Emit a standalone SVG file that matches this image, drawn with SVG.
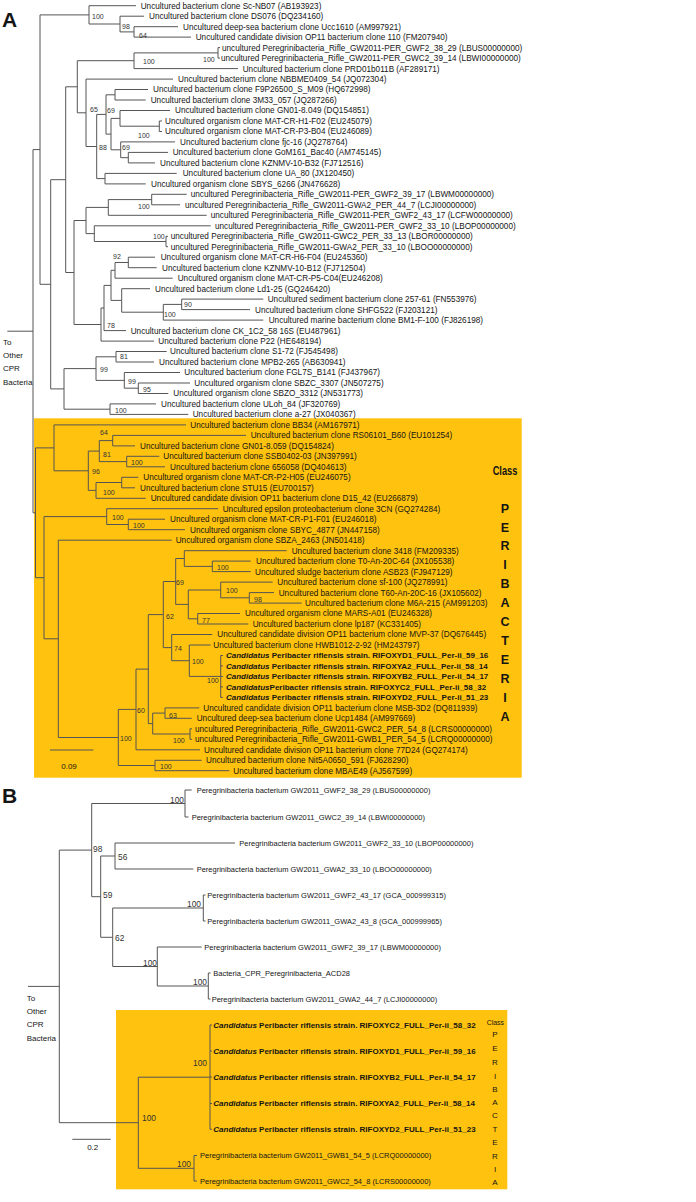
<svg xmlns="http://www.w3.org/2000/svg" width="696" height="1202" viewBox="0 0 696 1202">
<style>
text{font-family:"Liberation Sans",Arial,sans-serif;fill:#151515}
.t{font-size:8.2px}
.tb{font-size:8px;font-weight:bold}
.tB{font-size:7.5px}
.bs{font-size:7px;fill:#333}
.bsB{font-size:8.4px;fill:#333}
.lab{font-size:8px}
.pan{font-size:21px;font-weight:bold}
.cls{font-size:12.5px;font-weight:bold;text-anchor:middle}
.clsB{font-size:8px;text-anchor:middle}
.br{fill:none;stroke:#555;stroke-width:1}
.box{fill:#FFC20E}
</style>
<rect class="box" x="34" y="418.3" width="487.7" height="359.4"/>
<rect class="box" x="116" y="1010" width="391.3" height="179.3"/>
<text class="pan" x="2" y="27">A</text>
<text class="pan" x="2" y="803">B</text>
<g id="connectors">
<path class="br" d="M178 26.7H134V37.1H191M144 16.2H120V31.9H134M136 5.7H89V24H120M89 14.9H40V284.3H50.7M220 47.6H218V58.1H220M218 52.9H134V68.6H238M148 89.5H115V100H145.7M162 121H159.3V131.5H162M170 110.5H120V126.2H159.3M168 152.4H128.3V162.9H155M175 141.9H120.7V157.7H128.3M120 118.4H111V149.8H120.7M115 94.8H106V134.1H111M176.7 173.4H105V183.9H145.7M106 114.4H96.7V178.6H105M173 79.1H86V146.5H96.7M134 60.7H77.3V112.8H86M186.7 194.3H151.7V204.8H180M151.7 199.6H108.3V215.3H206.7M168 236.3H166V246.7H168M210.7 225.8H94.3V241.5H166M108.3 207.4H86V233.6H94.3M155 257.2H128.3V267.7H156.7M128.3 262.5H115V278.2H172.7M263.3 299.1H181.7V309.6H250M181.7 304.4H163.3V320.1H263.3M150 288.7H121.7V312.2H163.3M115 270.3H111V300.4H121.7M111 285.4H104V330.6H126M104 308H101V341.1H154M86 220.5H74V324.5H101M77.3 86.8H65.7V272.5H74M166.7 351.5H116V362H154M190 383H138.3V393.5H168.3M180 372.5H124.3V388.2H138.3M116 356.8H96V380.4H124.3M156 403.9H110V414.4H188.3M96 368.6H64V409.2H110M65.7 179.7H50.7V388.9H64M40 149.6H33V512.8H35.5M7.3 331.2H33"/>
<path class="br" d="M246 435.4H112.7V445.9H135M159.3 456.3H126.7V466.8H165M112.7 440.6H99.3V461.6H126.7M138.3 477.3H121.7V487.8H135M121.7 482.5H96V498.3H145.7M99.3 451.1H88.3V490.4H96M186 424.9H54V470.8H88.3M165 519.2H128.3V529.7H185M218.3 508.7H106.7V524.5H128.3M250.7 561.1H212.3V571.6H250.7M286.7 550.7H184.3V566.4H212.3M274 592.6H249.3V603.1H301.7M272.7 582.1H220.7V597.8H249.3M240 613.5H197.7V624H248.3M220.7 590H188.3V618.8H197.7M184.3 558.5H175.7V604.4H188.3M223 655.5H220.7V697.4H223M220.7 665.9H223M220.7 676.4H223M220.7 686.9H223M210.7 645H189.3V676.4H220.7M212.3 634.5H171.7V660.7H189.3M175.7 581.5H163.3V647.6H171.7M199.3 707.9H165V718.3H191.7M192 728.8H190V739.3H192M165 713.1H152.7V734H190M163.3 614.6H148.3V723.6H152.7M148.3 669.1H136V749.8H200M201.7 760.3H155V770.7H229.3M136 709.4H118.3V765.5H155M171.7 540.2H58.3V737.5H118.3M106.7 516.6H44V638.8H58.3M54 447.9H35.5V577.7H44M50 750H93.3"/>
<path class="br" d="M191.7 790H185V817H188.5M235 843H115V869H193.3M205.5 895H203.3V921H205.5M210.5 973H208.3V999H210.5M201.7 947H157.3V986H208.3M203.3 908H112.7V966.5H157.3M115 856H100.7V937.3H112.7M185 803.5H91.7V896.7H100.7M212 1025H210V1129.3H212M210 1051H212M210 1077H212M210 1103.5H212M197 1155.5H194V1181H197M210 1077.2H138.3V1168.3H194M91.7 850.1H59.3V1122.7H138.3M28 986.4H59.3M72.3 1139.3H110.7"/>
</g>
<g id="support-values">
<text class="bs" x="92" y="19.2">100</text>
<text class="bs" x="122" y="28.5">98</text>
<text class="bs" x="139" y="38">64</text>
<text class="bs" x="143" y="64.2">100</text>
<text class="bs" x="203" y="61.5">100</text>
<text class="bs" x="90" y="111.5">65</text>
<text class="bs" x="107" y="112.5">69</text>
<text class="bs" x="138" y="137.5">100</text>
<text class="bs" x="99" y="149.5">88</text>
<text class="bs" x="122" y="149.5">69</text>
<text class="bs" x="138" y="209.2">100</text>
<text class="bs" x="153" y="238.5">100</text>
<text class="bs" x="113" y="258.5">92</text>
<text class="bs" x="184" y="306.5">90</text>
<text class="bs" x="164" y="316.5">100</text>
<text class="bs" x="107" y="328.2">78</text>
<text class="bs" x="120" y="359.2">81</text>
<text class="bs" x="100" y="371.5">99</text>
<text class="bs" x="128" y="384.2">99</text>
<text class="bs" x="143" y="391.5">95</text>
<text class="bs" x="115" y="412.5">100</text>
<text class="bs" x="100" y="435.2">64</text>
<text class="bs" x="103" y="456.5">81</text>
<text class="bs" x="131" y="465.2">100</text>
<text class="bs" x="92" y="474.2">96</text>
<text class="bs" x="103" y="494.8">100</text>
<text class="bs" x="112" y="520.2">100</text>
<text class="bs" x="133" y="528.2">100</text>
<text class="bs" x="217" y="569.5">100</text>
<text class="bs" x="176" y="585.2">69</text>
<text class="bs" x="226" y="593.2">100</text>
<text class="bs" x="254" y="601.5">98</text>
<text class="bs" x="166" y="618.5">62</text>
<text class="bs" x="202" y="623.2">77</text>
<text class="bs" x="174" y="650.8">74</text>
<text class="bs" x="192" y="663.5">100</text>
<text class="bs" x="207" y="682.5">100</text>
<text class="bs" x="137" y="712.5">60</text>
<text class="bs" x="169" y="718.2">63</text>
<text class="bs" x="120" y="740.8">100</text>
<text class="bs" x="173" y="742.5">100</text>
<text class="bs" x="160" y="768.5">100</text>
<text class="bsB" x="170" y="803">100</text>
<text class="bsB" x="93" y="852.3">98</text>
<text class="bsB" x="118" y="859.7">56</text>
<text class="bsB" x="103" y="898">59</text>
<text class="bsB" x="187" y="907">100</text>
<text class="bsB" x="115" y="940.7">62</text>
<text class="bsB" x="143" y="965.7">100</text>
<text class="bsB" x="193" y="984.7">100</text>
<text class="bsB" x="193" y="1066.3">100</text>
<text class="bsB" x="142" y="1121.3">100</text>
<text class="bsB" x="177" y="1167">100</text>
</g>
<g id="scale-A"><text class="lab" x="69" y="768.7" text-anchor="middle">0.09</text></g>
<g id="scale-B"><text class="lab" x="92.7" y="1149.5" text-anchor="middle">0.2</text></g>
<g id="outgroup-A"><text class="lab" x="3" y="344.5">To</text><text class="lab" x="3" y="357.8">Other</text><text class="lab" x="3" y="371.1">CPR</text><text class="lab" x="3" y="384.5">Bacteria</text></g>
<g id="outgroup-B"><text class="lab" x="26.7" y="1000.5">To</text><text class="lab" x="26.7" y="1013.8">Other</text><text class="lab" x="26.7" y="1027.1">CPR</text><text class="lab" x="26.7" y="1041.1">Bacteria</text></g>
<g id="class-A">
<text class="cls" x="505" y="474.5" textLength="24.6" lengthAdjust="spacingAndGlyphs">Class</text>
<text class="cls" x="505" y="512.5">P</text><text class="cls" x="505" y="531.5">E</text><text class="cls" x="505" y="550.4">R</text><text class="cls" x="505" y="569.4">I</text><text class="cls" x="505" y="588.4">B</text><text class="cls" x="505" y="607.4">A</text><text class="cls" x="505" y="626.3">C</text><text class="cls" x="505" y="645.3">T</text><text class="cls" x="505" y="664.3">E</text><text class="cls" x="505" y="683.2">R</text><text class="cls" x="505" y="702.2">I</text><text class="cls" x="505" y="721.2">A</text>
</g>
<g id="class-B">
<text class="clsB" x="495.3" y="1024.5" textLength="17.3" lengthAdjust="spacingAndGlyphs">Class</text>
<text class="clsB" x="495" y="1037.2">P</text><text class="clsB" x="495" y="1050.6">E</text><text class="clsB" x="495" y="1064.5">R</text><text class="clsB" x="495" y="1078.5">I</text><text class="clsB" x="495" y="1091.8">B</text><text class="clsB" x="495" y="1104.5">A</text><text class="clsB" x="495" y="1117.8">C</text><text class="clsB" x="495" y="1131.8">T</text><text class="clsB" x="495" y="1145.1">E</text><text class="clsB" x="495" y="1158.5">R</text><text class="clsB" x="495" y="1171.8">I</text><text class="clsB" x="495" y="1185.1">A</text>
</g>
<g id="a01"><text class="t" x="140.7" y="8.6">Uncultured bacterium clone Sc-NB07 (AB193923)</text></g>
<g id="a02"><text class="t" x="149" y="19.1">Uncultured bacterium clone DS076 (DQ234160)</text></g>
<g id="a03"><text class="t" x="183" y="29.6">Uncultured deep-sea bacterium clone Ucc1610 (AM997921)</text></g>
<g id="a04"><text class="t" x="195.7" y="40">Uncultured candidate division OP11 bacterium clone 110 (FM207940)</text></g>
<g id="a05"><text class="t" x="222" y="50.5">uncultured Peregrinibacteria_Rifle_GW2011-PER_GWF2_38_29 (LBUS00000000)</text></g>
<g id="a06"><text class="t" x="221" y="61">uncultured Peregrinibacteria_Rifle_GW2011-PER_GWC2_39_14 (LBWI00000000)</text></g>
<g id="a07"><text class="t" x="242.7" y="71.5">Uncultured bacterium clone PRD01b011B (AF289171)</text></g>
<g id="a08"><text class="t" x="178" y="82">Uncultured bacterium clone NBBME0409_54 (JQ072304)</text></g>
<g id="a09"><text class="t" x="153" y="92.4">Uncultured bacterium clone F9P26500_S_M09 (HQ672998)</text></g>
<g id="a10"><text class="t" x="150.7" y="102.9">Uncultured bacterium clone 3M33_057 (JQ287266)</text></g>
<g id="a11"><text class="t" x="175" y="113.4">Uncultured bacterium clone GN01-8.049 (DQ154851)</text></g>
<g id="a12"><text class="t" x="165" y="123.9">Uncultured organism clone MAT-CR-H1-F02 (EU245079)</text></g>
<g id="a13"><text class="t" x="165" y="134.4">Uncultured organism clone MAT-CR-P3-B04 (EU246089)</text></g>
<g id="a14"><text class="t" x="180" y="144.8">Uncultured bacterium clone fjc-16 (JQ278764)</text></g>
<g id="a15"><text class="t" x="172.7" y="155.3">Uncultured bacterium clone GoM161_Bac40 (AM745145)</text></g>
<g id="a16"><text class="t" x="160" y="165.8">Uncultured bacterium clone KZNMV-10-B32 (FJ712516)</text></g>
<g id="a17"><text class="t" x="182.7" y="176.3">Uncultured bacterium clone UA_80 (JX120450)</text></g>
<g id="a18"><text class="t" x="151" y="186.8">Uncultured organism clone SBYS_6266 (JN476628)</text></g>
<g id="a19"><text class="t" x="190.7" y="197.2">uncultured Peregrinibacteria_Rifle_GW2011-PER_GWF2_39_17 (LBWM00000000)</text></g>
<g id="a20"><text class="t" x="185" y="207.7">uncultured Peregrinibacteria_Rifle_GW2011-GWA2_PER_44_7 (LCJI00000000)</text></g>
<g id="a21"><text class="t" x="210.7" y="218.2">uncultured Peregrinibacteria_Rifle_GW2011-PER_GWF2_43_17 (LCFW00000000)</text></g>
<g id="a22"><text class="t" x="215" y="228.7">uncultured Peregrinibacteria_Rifle_GW2011-PER_GWF2_33_10 (LBOP00000000)</text></g>
<g id="a23"><text class="t" x="170.7" y="239.2">uncultured Peregrinibacteria_Rifle_GW2011-GWC2_PER_33_13 (LBOR00000000)</text></g>
<g id="a24"><text class="t" x="170.7" y="249.6">uncultured Peregrinibacteria_Rifle_GW2011-GWA2_PER_33_10 (LBOO00000000)</text></g>
<g id="a25"><text class="t" x="160.7" y="260.1">Uncultured organism clone MAT-CR-H6-F04 (EU245360)</text></g>
<g id="a26"><text class="t" x="162" y="270.6">Uncultured bacterium clone KZNMV-10-B12 (FJ712504)</text></g>
<g id="a27"><text class="t" x="177.7" y="281.1">Uncultured organism clone MAT-CR-P5-C04(EU246208)</text></g>
<g id="a28"><text class="t" x="155" y="291.6">Uncultured bacterium clone Ld1-25 (GQ246420)</text></g>
<g id="a29"><text class="t" x="267.7" y="302">Uncultured sediment bacterium clone 257-61 (FN553976)</text></g>
<g id="a30"><text class="t" x="255" y="312.5">Uncultured bacterium clone SHFG522 (FJ203121)</text></g>
<g id="a31"><text class="t" x="268.7" y="323">Uncultured marine bacterium clone BM1-F-100 (FJ826198)</text></g>
<g id="a32"><text class="t" x="130.7" y="333.5">Uncultured bacterium clone CK_1C2_58 16S (EU487961)</text></g>
<g id="a33"><text class="t" x="158.3" y="344">Uncultured bacterium clone P22 (HE648194)</text></g>
<g id="a34"><text class="t" x="170" y="354.4">Uncultured bacterium clone S1-72 (FJ545498)</text></g>
<g id="a35"><text class="t" x="159" y="364.9">Uncultured bacterium clone MPB2-265 (AB630941)</text></g>
<g id="a36"><text class="t" x="184.3" y="375.4">Uncultured bacterium clone FGL7S_B141 (FJ437967)</text></g>
<g id="a37"><text class="t" x="194.3" y="385.9">Uncultured organism clone SBZC_3307 (JN507275)</text></g>
<g id="a38"><text class="t" x="173.3" y="396.4">Uncultured organism clone SBZO_3312 (JN531773)</text></g>
<g id="a39"><text class="t" x="161" y="406.8">Uncultured bacterium clone ULoh_84 (JF320769)</text></g>
<g id="a40"><text class="t" x="192.7" y="417.3">Uncultured bacterium clone a-27 (JX040367)</text></g>
<g id="a41"><text class="t" x="190.3" y="427.8">Uncultured bacterium clone BB34 (AM167971)</text></g>
<g id="a42"><text class="t" x="250.7" y="438.3">Uncultured bacterium clone RS06101_B60 (EU101254)</text></g>
<g id="a43"><text class="t" x="140" y="448.8">Uncultured bacterium clone GN01-8.059 (DQ154824)</text></g>
<g id="a44"><text class="t" x="163.3" y="459.2">Uncultured bacterium clone SSB0402-03 (JN397991)</text></g>
<g id="a45"><text class="t" x="170" y="469.7">Uncultured bacterium clone 656058 (DQ404613)</text></g>
<g id="a46"><text class="t" x="143.3" y="480.2">Uncultured organism clone MAT-CR-P2-H05 (EU246075)</text></g>
<g id="a47"><text class="t" x="140" y="490.7">Uncultured bacterium clone STU15 (EU700157)</text></g>
<g id="a48"><text class="t" x="150.7" y="501.2">Uncultured candidate division OP11 bacterium clone D15_42 (EU266879)</text></g>
<g id="a49"><text class="t" x="222.7" y="511.6">Uncultured epsilon proteobacterium clone 3CN (GQ274284)</text></g>
<g id="a50"><text class="t" x="170" y="522.1">Uncultured organism clone MAT-CR-P1-F01 (EU246018)</text></g>
<g id="a51"><text class="t" x="190" y="532.6">Uncultured organism clone SBYC_4877 (JN447158)</text></g>
<g id="a52"><text class="t" x="175.7" y="543.1">Uncultured organism clone SBZA_2463 (JN501418)</text></g>
<g id="a53"><text class="t" x="291.7" y="553.6">Uncultured bacterium clone 3418 (FM209335)</text></g>
<g id="a54"><text class="t" x="256" y="564">Uncultured bacterium clone T0-An-20C-64 (JX105538)</text></g>
<g id="a55"><text class="t" x="255" y="574.5">Uncultured sludge bacterium clone ASB23 (FJ947129)</text></g>
<g id="a56"><text class="t" x="277.3" y="585">Uncultured bacterium clone sf-100 (JQ278991)</text></g>
<g id="a57"><text class="t" x="278.7" y="595.5">Uncultured bacterium clone T60-An-20C-16 (JX105602)</text></g>
<g id="a58"><text class="t" x="305" y="606">Uncultured bacterium clone M6A-215 (AM991203)</text></g>
<g id="a59"><text class="t" x="245" y="616.4">Uncultured organism clone MARS-A01 (EU246328)</text></g>
<g id="a60"><text class="t" x="252.7" y="626.9">Uncultured bacterium clone lp187 (KC331405)</text></g>
<g id="a61"><text class="t" x="217.3" y="637.4">Uncultured candidate division OP11 bacterium clone MVP-37 (DQ676445)</text></g>
<g id="a62"><text class="t" x="213.3" y="647.9">Uncultured bacterium clone HWB1012-2-92 (HM243797)</text></g>
<g id="a63"><text class="tb" x="226" y="658.4"><tspan font-style="italic">Candidatus</tspan> Peribacter riflensis strain. RIFOXYD1_FULL_Per-ii_59_16</text></g>
<g id="a64"><text class="tb" x="226" y="668.8"><tspan font-style="italic">Candidatus</tspan> Peribacter riflensis strain. RIFOXYA2_FULL_Per-ii_58_14</text></g>
<g id="a65"><text class="tb" x="226" y="679.3"><tspan font-style="italic">Candidatus</tspan> Peribacter riflensis strain. RIFOXYB2_FULL_Per-ii_54_17</text></g>
<g id="a66"><text class="tb" x="226" y="689.8"><tspan font-style="italic">Candidatus</tspan>Peribacter riflensis strain. RIFOXYC2_FULL_Per-ii_58_32</text></g>
<g id="a67"><text class="tb" x="226" y="700.3"><tspan font-style="italic">Candidatus</tspan> Peribacter riflensis strain. RIFOXYD2_FULL_Per-ii_51_23</text></g>
<g id="a68"><text class="t" x="203.3" y="710.8">Uncultured candidate division OP11 bacterium clone MSB-3D2 (DQ811939)</text></g>
<g id="a69"><text class="t" x="196.7" y="721.2">Uncultured deep-sea bacterium clone Ucp1484 (AM997669)</text></g>
<g id="a70"><text class="t" x="195" y="731.7">uncultured Peregrinibacteria_Rifle_GW2011-GWC2_PER_54_8 (LCRS00000000)</text></g>
<g id="a71"><text class="t" x="195" y="742.2">uncultured Peregrinibacteria_Rifle_GW2011-GWB1_PER_54_5 (LCRQ00000000)</text></g>
<g id="a72"><text class="t" x="204" y="752.7">Uncultured candidate division OP11 bacterium clone 77D24 (GQ274174)</text></g>
<g id="a73"><text class="t" x="206" y="763.2">Uncultured bacterium clone Nit5A0650_591 (FJ628290)</text></g>
<g id="a74"><text class="t" x="233.3" y="773.6">Uncultured bacterium clone MBAE49 (AJ567599)</text></g>
<g id="b01"><text class="tB" x="196.7" y="792.7">Peregrinibacteria bacterium GW2011_GWF2_38_29 (LBUS00000000)</text></g>
<g id="b02"><text class="tB" x="191.7" y="819.7">Peregrinibacteria bacterium GW2011_GWC2_39_14 (LBWI00000000)</text></g>
<g id="b03"><text class="tB" x="239.3" y="845.7">Peregrinibacteria bacterium GW2011_GWF2_33_10 (LBOP00000000)</text></g>
<g id="b04"><text class="tB" x="196.7" y="871.7">Peregrinibacteria bacterium GW2011_GWA2_33_10 (LBOO00000000)</text></g>
<g id="b05"><text class="tB" x="207.3" y="897.7">Peregrinibacteria bacterium GW2011_GWF2_43_17 (GCA_000999315)</text></g>
<g id="b06"><text class="tB" x="207.3" y="923.7">Peregrinibacteria bacterium GW2011_GWA2_43_8 (GCA_000999965)</text></g>
<g id="b07"><text class="tB" x="204.3" y="949.7">Peregrinibacteria bacterium GW2011_GWF2_39_17 (LBWM00000000)</text></g>
<g id="b08"><text class="tB" x="213.3" y="975.7">Bacteria_CPR_Peregrinibacteria_ACD28</text></g>
<g id="b09"><text class="tB" x="211.7" y="1001.7">Peregrinibacteria bacterium GW2011_GWA2_44_7 (LCJI00000000)</text></g>
<g id="b10"><text class="tb" x="213.3" y="1027.9"><tspan font-style="italic">Candidatus</tspan> Peribacter riflensis strain. RIFOXYC2_FULL_Per-ii_58_32</text></g>
<g id="b11"><text class="tb" x="213.3" y="1053.9"><tspan font-style="italic">Candidatus</tspan> Peribacter riflensis strain. RIFOXYD1_FULL_Per-ii_59_16</text></g>
<g id="b12"><text class="tb" x="213.3" y="1079.9"><tspan font-style="italic">Candidatus</tspan> Peribacter riflensis strain. RIFOXYB2_FULL_Per-ii_54_17</text></g>
<g id="b13"><text class="tb" x="213.3" y="1106.4"><tspan font-style="italic">Candidatus</tspan> Peribacter riflensis strain. RIFOXYA2_FULL_Per-ii_58_14</text></g>
<g id="b14"><text class="tb" x="213.3" y="1132.2"><tspan font-style="italic">Candidatus</tspan> Peribacter riflensis strain. RIFOXYD2_FULL_Per-ii_51_23</text></g>
<g id="b15"><text class="tB" x="200" y="1158.2">Peregrinibacteria bacterium GW2011_GWB1_54_5 (LCRQ00000000)</text></g>
<g id="b16"><text class="tB" x="200" y="1183.7">Peregrinibacteria bacterium GW2011_GWC2_54_8 (LCRS00000000)</text></g>
</svg>
